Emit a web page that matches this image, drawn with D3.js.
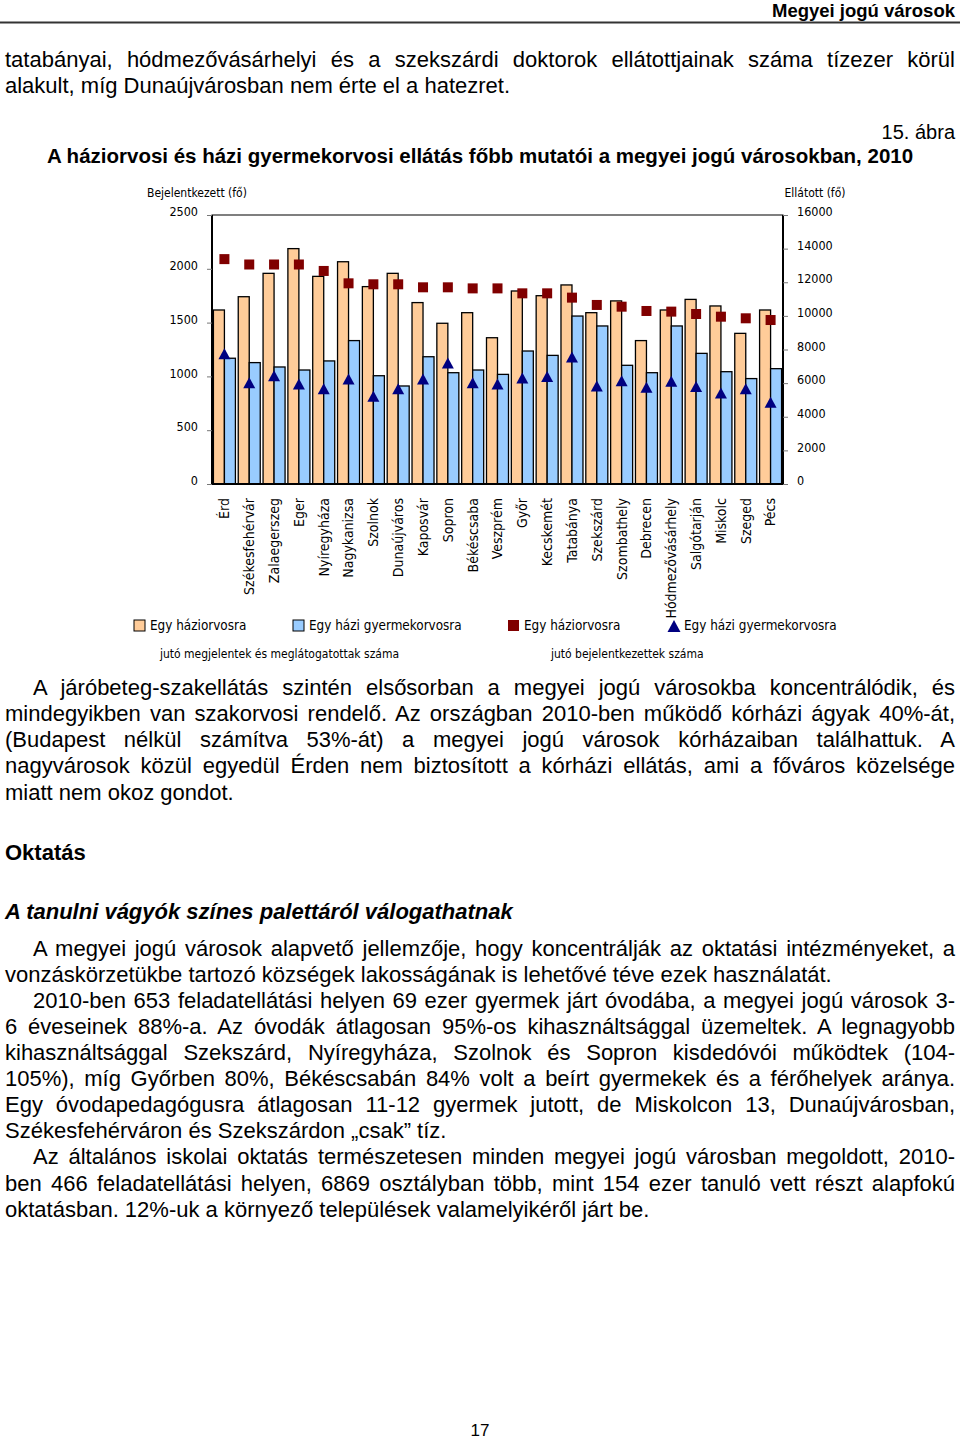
<!DOCTYPE html>
<html lang="hu">
<head>
<meta charset="UTF-8">
<title>Megyei jogú városok</title>
<style>
    body{
        margin: 0;
        background: #fff;
    }
    #page{
        position: relative;
        width: 960px;
        height: 1440px;
        font-family: "Liberation Sans", Arial, sans-serif;
        color: #000;
    }
    .line{
        position: absolute;
        font-size: 22px;
        line-height: 26px;
        white-space: nowrap;
    }
    .just{
        text-align: justify;
        text-align-last: justify;
        white-space: normal;
    }
    svg{
        position: absolute;
        left: 0;
        top: 0;
    }
    .axis text, .cat, .lbl{
        font-family: "DejaVu Sans Condensed", "Liberation Sans", Arial, sans-serif;
        fill: #000;
    }
    .axis text{
        font-size: 12.5px;
    }
    .cat{
        font-size: 14px;
    }
    .lbl{
        font-size: 12px;
    }
    .lbl.big{
        font-size: 13.4px;
    }
    .axis .domain{
        display: none;
    }
    .axis .tick line{
        stroke: #777;
    }
</style>
<script src="https://cdn.jsdelivr.net/npm/d3@7"></script>
</head>
<body>
<div id="page"></div>
<script>
    // cities and values
    const cities = ["Érd","Székesfehérvár","Zalaegerszeg","Eger","Nyíregyháza","Nagykanizsa","Szolnok",
        "Dunaújváros","Kaposvár","Sopron","Békéscsaba","Veszprém","Győr","Kecskemét","Tatabánya",
        "Szekszárd","Szombathely","Debrecen","Hódmezővásárhely","Salgótarján","Miskolc","Szeged","Pécs"]
    // bars, right axis (Ellátott)
    const visitsGP  = [10350,11140,12530,14000,12350,13220,11740,12530,10790,9560,10190,
        8700,11480,11200,11840,10190,10890,8530,10350,10980,10590,8960,10350]
    const visitsPed = [7480,7220,6960,6780,7320,8530,6440,5830,7570,6620,6780,
        6520,7910,7650,9990,9400,7060,6620,9400,7770,6680,6270,6860]
    // markers, left axis (Bejelentkezett)
    const regGP  = [2090,2040,2040,2040,1980,1865,1856,1856,1828,1828,1818,
        1818,1772,1772,1732,1664,1648,1608,1602,1580,1555,1540,1524]
    const regPed = [1210,940,1005,930,885,975,815,885,975,1125,940,
        930,985,1000,1180,910,960,900,955,905,845,885,760]
    const leftTicks  = [0,500,1000,1500,2000,2500]
    const rightTicks = [0,2000,4000,6000,8000,10000,12000,14000,16000]

    const legendItems = [
        {label:"Egy  háziorvosra", type:"bar", color:"#ffcc99", x:134},
        {label:"Egy  házi gyermekorvosra", type:"bar", color:"#99ccff", x:293},
        {label:"Egy  háziorvosra", type:"square", color:"#800000", x:508},
        {label:"Egy  házi gyermekorvosra", type:"triangle", color:"#000080", x:668}
    ]

    // text lines of the page: [text, centre y, indent, justified]
    const topLines = [
        ["tatabányai, hódmezővásárhelyi és a szekszárdi doktorok ellátottjainak száma tízezer körül", 60, 0, true],
        ["alakult, míg Dunaújvárosban nem érte el a hatezret.", 86, 0, false]
    ]
    const bodyLines = [
        ["A járóbeteg-szakellátás szintén elsősorban a megyei jogú városokba koncentrálódik, és", 688, 28, true],
        ["mindegyikben van szakorvosi rendelő. Az országban 2010-ben működő kórházi ágyak 40%-át,", 714, 0, true],
        ["(Budapest nélkül számítva 53%-át) a megyei jogú városok kórházaiban találhattuk. A", 740, 0, true],
        ["nagyvárosok közül egyedül Érden nem biztosított a kórházi ellátás, ami a főváros közelsége", 766, 0, true],
        ["miatt nem okoz gondot.", 793, 0, false],
        ["A megyei jogú városok alapvető jellemzője, hogy koncentrálják az oktatási intézményeket, a", 949, 28, true],
        ["vonzáskörzetükbe tartozó községek lakosságának is lehetővé téve ezek használatát.", 975, 0, false],
        ["2010-ben 653 feladatellátási helyen 69 ezer gyermek járt óvodába, a megyei jogú városok 3-", 1001, 28, true],
        ["6 éveseinek 88%-a. Az óvodák átlagosan 95%-os kihasználtsággal üzemeltek. A legnagyobb", 1027, 0, true],
        ["kihasználtsággal Szekszárd, Nyíregyháza, Szolnok és Sopron kisdedóvói működtek (104-", 1053, 0, true],
        ["105%), míg Győrben 80%, Békéscsabán 84% volt a beírt gyermekek és a férőhelyek aránya.", 1079, 0, true],
        ["Egy óvodapedagógusra átlagosan 11-12 gyermek jutott, de Miskolcon 13, Dunaújvárosban,", 1105, 0, true],
        ["Székesfehérváron és Szekszárdon „csak” tíz.", 1131, 0, false],
        ["Az általános iskolai oktatás természetesen minden megyei jogú városban megoldott, 2010-", 1157, 28, true],
        ["ben 466 feladatellátási helyen, 6869 osztályban több, mint 154 ezer tanuló vett részt alapfokú", 1184, 0, true],
        ["oktatásban. 12%-uk a környező települések valamelyikéről járt be.", 1210, 0, false]
    ]

    const page = d3.select("#page")

    // running text as justified html lines
    page.selectAll(".line")
        .data([...topLines, ...bodyLines])
        .enter()
        .append("div")
        .attr("class", d => d[3] ? "line just" : "line")
        .style("left", d => (5 + d[2]) + "px")
        .style("width", d => (950 - d[2]) + "px")
        .style("top", d => (d[1] - 13) + "px")
        .text(d => d[0])
        .each(function(){
            // keep each printed line on one line
            let fs = 22
            while (this.scrollHeight > 30 && fs > 16) {
                fs -= 0.25
                this.style.fontSize = fs + "px"
            }
        })

    const svg = page.append("svg")
        .attr("width", 960)
        .attr("height", 1440)

    // page header
    svg.append("text").attr("x", 955).attr("y", 17)
        .attr("text-anchor", "end")
        .style("font", "bold 18.5px 'Liberation Sans', Arial, sans-serif")
        .text("Megyei jogú városok")
    svg.append("line").attr("x1", 0).attr("x2", 960).attr("y1", 22.5).attr("y2", 22.5)
        .attr("stroke", "#333").attr("stroke-width", 2)

    svg.append("text").attr("x", 955).attr("y", 139)
        .attr("text-anchor", "end")
        .style("font", "20px 'Liberation Sans', Arial, sans-serif")
        .text("15. ábra")
    svg.append("text").attr("x", 480).attr("y", 163)
        .attr("text-anchor", "middle")
        .style("font", "bold 20.5px 'Liberation Sans', Arial, sans-serif")
        .text("A háziorvosi és házi gyermekorvosi ellátás főbb mutatói a megyei jogú városokban, 2010")

    // section titles
    svg.append("text").attr("x", 5).attr("y", 860)
        .style("font", "bold 22px 'Liberation Sans', Arial, sans-serif")
        .text("Oktatás")
    svg.append("text").attr("x", 5).attr("y", 919)
        .style("font", "italic bold 22px 'Liberation Sans', Arial, sans-serif")
        .text("A tanulni vágyók színes palettáról válogathatnak")
    svg.append("text").attr("x", 480).attr("y", 1436)
        .attr("text-anchor", "middle")
        .style("font", "17px 'Liberation Sans', Arial, sans-serif")
        .text("17")

    /* ------------- chart ----------------- */
    const plot = {left: 212, right: 783, top: 215, bottom: 484}

    const x = d3.scaleBand()
        .domain(cities)
        .range([plot.left, plot.right])
        .padding(0)
    const half = 11
    const yLeft = d3.scaleLinear().domain([0, 2500]).range([plot.bottom, plot.top])
    const yRight = d3.scaleLinear().domain([0, 16000]).range([plot.bottom, plot.top])

    const chart = svg.append("g")

    // frame
    chart.append("rect")
        .attr("x", plot.left).attr("y", plot.top)
        .attr("width", plot.right - plot.left).attr("height", plot.bottom - plot.top)
        .attr("fill", "none").attr("stroke", "#000").attr("stroke-width", 1)

    // bars
    chart.selectAll(".barGP")
        .data(cities)
        .enter()
        .append("rect")
        .attr("x", d => x(d) + x.bandwidth() / 2 - half)
        .attr("y", (d, i) => yRight(visitsGP[i]))
        .attr("width", half)
        .attr("height", (d, i) => plot.bottom - yRight(visitsGP[i]))
        .attr("fill", "#ffcc99").attr("stroke", "#000").attr("stroke-width", 1.3)
    chart.selectAll(".barPed")
        .data(cities)
        .enter()
        .append("rect")
        .attr("x", d => x(d) + x.bandwidth() / 2)
        .attr("y", (d, i) => yRight(visitsPed[i]))
        .attr("width", half)
        .attr("height", (d, i) => plot.bottom - yRight(visitsPed[i]))
        .attr("fill", "#99ccff").attr("stroke", "#000").attr("stroke-width", 1.3)

    // axis lines drawn over the bars
    chart.append("line").attr("x1", plot.left).attr("x2", plot.left)
        .attr("y1", plot.top).attr("y2", plot.bottom).attr("stroke", "#000").attr("stroke-width", 2)
    chart.append("line").attr("x1", plot.right).attr("x2", plot.right)
        .attr("y1", plot.top).attr("y2", plot.bottom).attr("stroke", "#000").attr("stroke-width", 2)
    chart.append("line").attr("x1", plot.left).attr("x2", plot.right)
        .attr("y1", plot.bottom).attr("y2", plot.bottom).attr("stroke", "#000").attr("stroke-width", 2)

    // markers
    const sq = 10
    chart.selectAll(".sq")
        .data(cities)
        .enter()
        .append("rect")
        .attr("x", d => x(d) + x.bandwidth() / 2 - sq / 2)
        .attr("y", (d, i) => yLeft(regGP[i]) - sq / 2)
        .attr("width", sq).attr("height", sq)
        .attr("fill", "#800000")
    const tri = (w, h) => `M0,${-h / 2}L${w / 2},${h / 2}L${-w / 2},${h / 2}Z`
    chart.selectAll(".tri")
        .data(cities)
        .enter()
        .append("path")
        .attr("d", tri(12, 11))
        .attr("transform", (d, i) => `translate(${x(d) + x.bandwidth() / 2},${yLeft(regPed[i])})`)
        .attr("fill", "#000080")

    // axes
    chart.append("g").attr("class", "axis")
        .attr("transform", `translate(${plot.left},0)`)
        .call(d3.axisLeft(yLeft).tickValues(leftTicks).tickSize(5).tickPadding(9).tickFormat(d3.format("d")))
        .selectAll("text").attr("dy", "0.05em")
    chart.append("g").attr("class", "axis")
        .attr("transform", `translate(${plot.right},0)`)
        .call(d3.axisRight(yRight).tickValues(rightTicks).tickSize(5).tickPadding(9).tickFormat(d3.format("d")))
        .selectAll("text").attr("dy", "0.05em")

    chart.append("text").attr("class", "lbl")
        .attr("x", 197).attr("y", 197).attr("text-anchor", "middle")
        .text("Bejelentkezett (fő)")
    chart.append("text").attr("class", "lbl")
        .attr("x", 815).attr("y", 197).attr("text-anchor", "middle")
        .text("Ellátott (fő)")

    // category labels, rotated
    chart.selectAll(".cat")
        .data(cities)
        .enter()
        .append("text")
        .attr("class", "cat")
        .attr("text-anchor", "end")
        .attr("dy", "0.35em")
        .attr("transform", d => `translate(${x(d) + x.bandwidth() / 2},498) rotate(-90)`)
        .text(d => d)

    // legend
    const legend = chart.append("g")
    const items = legend.selectAll(".item")
        .data(legendItems)
        .enter()
        .append("g")
        .attr("transform", d => `translate(${d.x},625)`)
    items.filter(d => d.type === "bar")
        .append("rect")
        .attr("x", 0).attr("y", -5).attr("width", 11).attr("height", 11)
        .attr("fill", d => d.color).attr("stroke", "#000").attr("stroke-width", 1)
    items.filter(d => d.type === "square")
        .append("rect")
        .attr("x", 0).attr("y", -5).attr("width", 11).attr("height", 11)
        .attr("fill", d => d.color)
    items.filter(d => d.type === "triangle")
        .append("path")
        .attr("d", tri(13, 12))
        .attr("transform", "translate(6,1)")
        .attr("fill", d => d.color)
    items.append("text")
        .attr("class", "lbl big")
        .attr("x", 16).attr("dy", "0.35em")
        .text(d => d.label)

    legend.append("text").attr("class", "lbl")
        .attr("x", 160).attr("y", 654).attr("dy", "0.35em")
        .text("jutó megjelentek és meglátogatottak száma")
    legend.append("text").attr("class", "lbl")
        .attr("x", 551).attr("y", 654).attr("dy", "0.35em")
        .text("jutó bejelentkezettek  száma")
</script>
</body>
</html>
